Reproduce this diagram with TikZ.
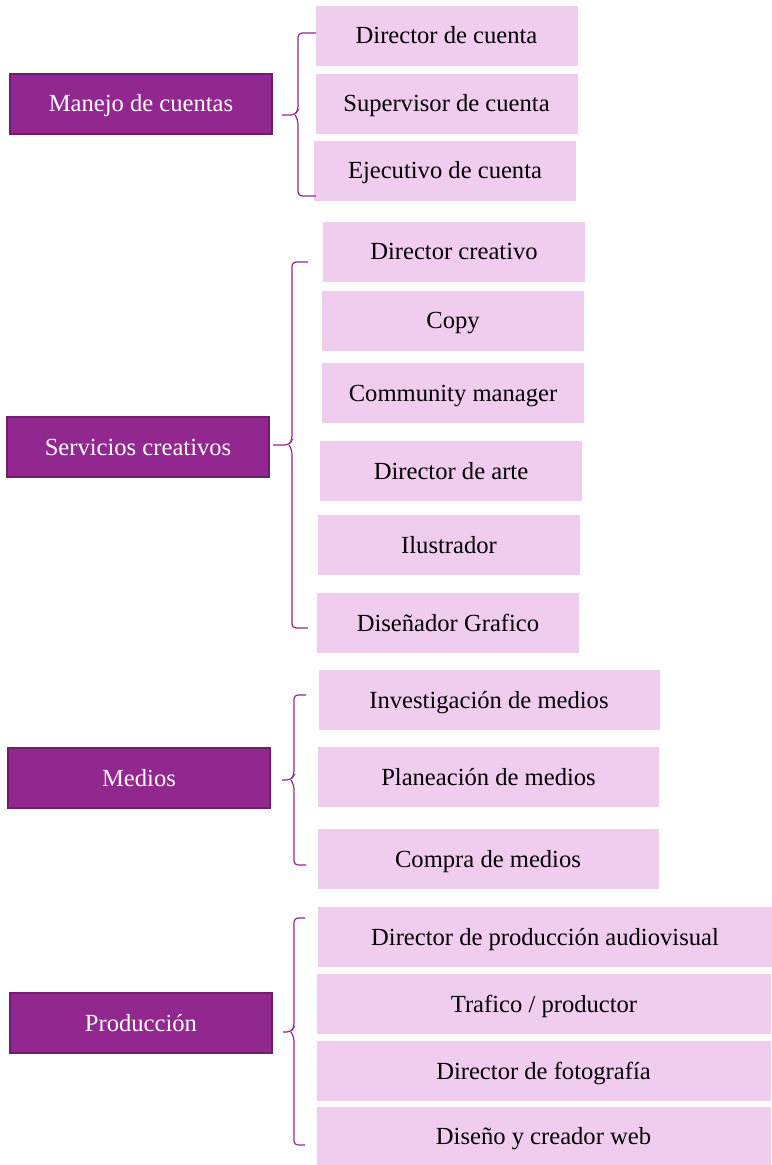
\documentclass[tikz,border=0pt]{standalone}
\usepackage{fontspec}
\setmainfont{Liberation Serif}
\usepackage{tikz}
\usetikzlibrary{positioning}

\definecolor{areapurple}{RGB}{146,39,143}
\definecolor{areaborder}{RGB}{112,28,110}
\definecolor{rolepink}{RGB}{240,204,238}

\begin{document}
\begin{tikzpicture}
 [ x=0.5pt, y=-0.5pt
 , area/.style={fill=areapurple, draw=areaborder, line width=0.6pt, text=white,
     minimum width=131pt, minimum height=30pt, inner sep=0pt,
     text height=10pt, text depth=2pt, font=\fontsize{12.3}{14}\selectfont}
 , role/.style={fill=rolepink, minimum width=131pt, minimum height=30pt, inner sep=0pt,
     text height=10pt, text depth=2pt, font=\fontsize{12.3}{14}\selectfont}
 , wide/.style={minimum width=170.5pt}
 , wider/.style={minimum width=227pt}
 , brace/.style={draw=areapurple, line width=0.6pt, rounded corners=2pt}
 ]
  \useasboundingbox (0,0) rectangle (771,1165);

  % areas
  \node [area] (cuentas)    at (141,104)  {Manejo de cuentas};
  \node [area] (creativos)  at (138,447)  {Servicios creativos};
  \node [area] (medios)     at (139,778)  {Medios};
  \node [area] (produccion) at (141,1023) {Producción};

  % manejo de cuentas
  \node [role] (dircuenta) at (446.5,36) {Director de cuenta};
  \node [role] (supcuenta) at (446.5,104) {Supervisor de cuenta};
  \node [role] (ejecuenta) at (445,171) {Ejecutivo de cuenta};

  % servicios creativos
  \node [role] (dircreativo) at (454,252) {Director creativo};
  \node [role] (copy)        at (453,321) {Copy};
  \node [role] (community)   at (453,393) {Community manager};
  \node [role] (dirarte)     at (451,471) {Director de arte};
  \node [role] (ilustrador)  at (449,545) {Ilustrador};
  \node [role] (disenador)   at (448,623) {Diseñador Grafico};

  % medios
  \node [role, wide] (investigacion) at (489,700) {Investigación de medios};
  \node [role, wide] (planeacion)    at (488.5,777) {Planeación de medios};
  \node [role, wide] (compra)        at (488,859) {Compra de medios};

  % produccion
  \node [role, wider] (dirproduccion) at (545,937)  {Director de producción audiovisual};
  \node [role, wider] (trafico)       at (544,1004) {Trafico / productor};
  \node [role, wider] (dirfoto)       at (543.5,1071) {Director de fotografía};
  \node [role, wider, minimum height=29pt] (disenoweb) at (543.5,1136) {Diseño y creador web};

  % braces
  \coordinate (b1top) at (316,33);  \coordinate (b1bot) at (316,196);  \coordinate (b1tip) at (282,115);
  \coordinate (b2top) at (308,262); \coordinate (b2bot) at (308,628);  \coordinate (b2tip) at (273,445);
  \coordinate (b3top) at (306,695); \coordinate (b3bot) at (306,865);  \coordinate (b3tip) at (282,780);
  \coordinate (b4top) at (305,918); \coordinate (b4bot) at (305,1145); \coordinate (b4tip) at (283,1032);

  \draw [brace] (b1top) -- (298,33) -- (298,110) -- (295,115) -- (b1tip)
    (295,115) -- (298,120) -- (298,196) -- (b1bot);
  \draw [brace] (b2top) -- (292,262) -- (292,440) -- (289,445) -- (b2tip)
    (289,445) -- (292,450) -- (292,628) -- (b2bot);
  \draw [brace] (b3top) -- (294,695) -- (294,775) -- (291,780) -- (b3tip)
    (291,780) -- (294,785) -- (294,865) -- (b3bot);
  \draw [brace] (b4top) -- (294,918) -- (294,1027) -- (291,1032) -- (b4tip)
    (291,1032) -- (294,1037) -- (294,1145) -- (b4bot);
\end{tikzpicture}
\end{document}
